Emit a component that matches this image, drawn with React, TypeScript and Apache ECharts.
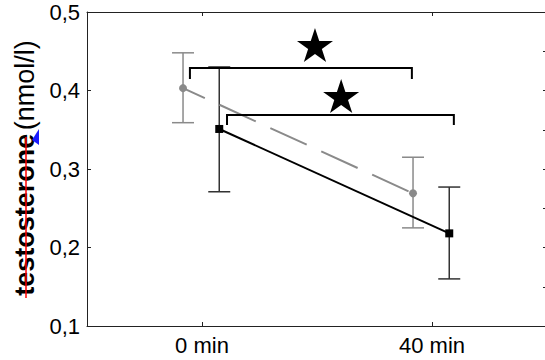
import React, { useEffect, useRef } from "react";
import * as echarts from "echarts";

// x positions are minutes (with small horizontal offsets so the two groups don't overlap)
const xTickValues = [0, 40];
const yTickStep = 0.1;

const grayPoints = [
  [-3.3, 0.403],
  [36.7, 0.269],
];
const grayErr = [
  [-3.3, 0.359, 0.448],
  [36.7, 0.225, 0.315],
];
const blackPoints = [
  [3, 0.351],
  [43, 0.218],
];
const blackErr = [
  [3, 0.271, 0.43],
  [43, 0.16, 0.277],
];
// [x start, x end, y bar, y end of legs]
const brackets = [
  [-2.1, 36.5, 0.4287, 0.4146],
  [4.35, 43.8, 0.3688, 0.356],
];
const stars = [
  [19.65, 0.458],
  [24.2, 0.393],
];

const STAR =
  "path://M50 0 L61.23 34.55 L97.55 34.55 L68.16 55.9 L79.39 90.45 L50 69.1 L20.61 90.45 L31.84 55.9 L2.45 34.55 L38.77 34.55 Z";

const FONT = "Liberation Sans, Arial, Helvetica, sans-serif";

function errRender(color: string) {
  return (params: any, api: any) => {
    const x = api.value(0);
    const lo = api.coord([x, api.value(1)]);
    const hi = api.coord([x, api.value(2)]);
    const w = 11;
    const st = { stroke: color, lineWidth: 1.5 };
    return {
      type: "group",
      children: [
        { type: "line", shape: { x1: hi[0], y1: hi[1], x2: lo[0], y2: lo[1] }, style: st },
        { type: "line", shape: { x1: hi[0] - w, y1: hi[1], x2: hi[0] + w, y2: hi[1] }, style: st },
        { type: "line", shape: { x1: lo[0] - w, y1: lo[1], x2: lo[0] + w, y2: lo[1] }, style: st },
      ],
    };
  };
}

function bracketRender(params: any, api: any) {
  const a = api.coord([api.value(0), api.value(2)]);
  const b = api.coord([api.value(1), api.value(2)]);
  const a2 = api.coord([api.value(0), api.value(3)]);
  const b2 = api.coord([api.value(1), api.value(3)]);
  return {
    type: "polyline",
    shape: { points: [a2, a, b, b2] },
    style: { stroke: "#000", lineWidth: 2, fill: null },
  };
}

export default function App() {
  const ref = useRef<HTMLDivElement>(null);
  useEffect(() => {
    if (!ref.current) return;
    const chart = echarts.init(ref.current, undefined, { renderer: "svg" });
    const axisLine = { show: true, lineStyle: { color: "#222", width: 1 } };
    chart.setOption({
      animation: false,
      backgroundColor: "#fff",
      grid: { left: 87, top: 12, right: 13, bottom: 34 },
      xAxis: [
        {
          type: "value",
          position: "bottom",
          min: -20,
          max: 60,
          axisLine: { ...axisLine, onZero: false },
          axisTick: { show: true, inside: true, length: 4, customValues: xTickValues, lineStyle: { color: "#222" } },
          axisLabel: {
            customValues: xTickValues,
            formatter: (v: number) => `${v} min`,
            fontSize: 22,
            fontFamily: FONT,
            color: "#000",
            margin: 8,
          },
          splitLine: { show: false },
        },
        {
          type: "value",
          position: "top",
          min: -20,
          max: 60,
          axisLine: { ...axisLine, onZero: false },
          axisTick: { show: true, inside: true, length: 4, customValues: xTickValues, lineStyle: { color: "#222" } },
          axisLabel: { show: false },
          splitLine: { show: false },
        },
      ],
      yAxis: [
        {
          type: "value",
          position: "left",
          min: 0.1,
          max: 0.5,
          interval: yTickStep,
          axisLine: { ...axisLine, onZero: false },
          axisTick: { show: true, inside: true, length: 4, lineStyle: { color: "#222" } },
          axisLabel: {
            formatter: (v: number) => v.toFixed(1).replace(".", ","),
            fontSize: 22,
            fontFamily: FONT,
            color: "#000",
            margin: 7,
          },
          splitLine: { show: false },
        },
        {
          type: "value",
          position: "right",
          min: 0.1,
          max: 0.5,
          interval: 0.05,
          axisLine: { ...axisLine, onZero: false },
          axisTick: { show: true, inside: true, length: 4, lineStyle: { color: "#222" } },
          axisLabel: { show: false },
          splitLine: { show: false },
        },
      ],
      graphic: [
        {
          type: "text",
          x: 25,
          y: 168,
          rotation: Math.PI / 2,
          style: {
            text: "{b|testosterone} {n|(nmol/l)}",
            align: "center",
            verticalAlign: "middle",
            fill: "#000",
            rich: {
              b: { fontSize: 27, fontWeight: "bold", fontFamily: FONT, fill: "#000" },
              n: { fontSize: 27, fontFamily: FONT, fill: "#000" },
            },
          },
        },
        {
          type: "line",
          shape: { x1: 26, y1: 137, x2: 26, y2: 298 },
          style: { stroke: "#ff0000", lineWidth: 1.5 },
          z: 10,
        },
        {
          type: "polygon",
          shape: { points: [[39, 129], [39, 145], [32, 140]] },
          style: { fill: "#1a1aff" },
          z: 10,
        },
      ],
      series: [
        {
          type: "custom",
          renderItem: errRender("#8a8a8a"),
          data: grayErr,
          z: 1,
        },
        {
          type: "custom",
          renderItem: errRender("#333"),
          data: blackErr,
          z: 1,
        },
        {
          type: "line",
          data: grayPoints,
          symbol: "circle",
          symbolSize: 8,
          itemStyle: { color: "#8a8a8a" },
          lineStyle: { color: "#8a8a8a", width: 2, type: [40, 16], dashOffset: 16 },
          z: 2,
        },
        {
          type: "line",
          data: blackPoints,
          symbol: "rect",
          symbolSize: 8,
          itemStyle: { color: "#000" },
          lineStyle: { color: "#000", width: 2 },
          z: 3,
        },
        {
          type: "custom",
          renderItem: bracketRender,
          data: brackets,
          z: 4,
        },
        {
          type: "scatter",
          data: stars,
          symbol: STAR,
          symbolSize: [36, 34],
          itemStyle: { color: "#000", opacity: 1 },
          z: 5,
        },
      ],
    });
    return () => chart.dispose();
  }, []);
  return (
    <div
      style={{
        position: "fixed",
        left: 0,
        top: 0,
        width: 545,
        height: 360,
        overflow: "hidden",
        background: "#fff",
      }}
    >
      <div ref={ref} style={{ width: 560, height: 360 }} />
    </div>
  );
}
